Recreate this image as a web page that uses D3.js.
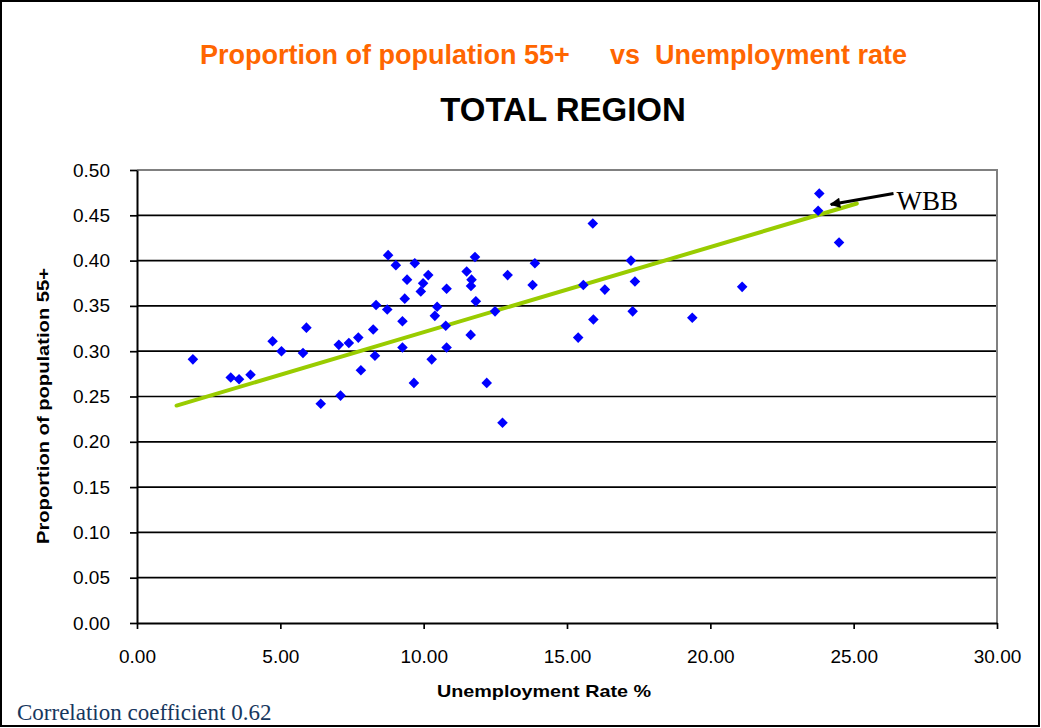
<!DOCTYPE html>
<html>
<head>
<meta charset="utf-8">
<script src="https://cdn.jsdelivr.net/npm/d3@7"></script>
<style>
  body { margin: 0; background: #fff; }
  svg { display: block; }
</style>
</head>
<body>
<div id="chart"></div>
<script>
// Unemployment rate % (x) and proportion of population 55+ (y), one entry per area
const unemployment = [
    1.95, 3.27, 3.56, 3.96, 4.73, 5.04, 5.91, 5.79, 6.41, 7.10,
    7.04, 7.39, 7.72, 7.81, 8.34, 8.24, 8.30, 8.76, 9.03, 8.73,
    9.69, 9.42, 9.34, 9.26, 9.26, 9.66, 10.16, 9.98, 9.90, 10.28,
    10.47, 10.39, 10.80, 10.77, 10.80, 11.50, 11.67, 11.65, 11.64, 11.79,
    11.82, 12.20, 12.49, 12.75, 12.93, 13.88, 13.80, 15.39, 15.57, 15.90,
    15.92, 16.32, 17.23, 17.37, 17.29, 19.37, 21.11, 23.80, 23.76, 24.49
];
const proportion55 = [
    0.291, 0.271, 0.269, 0.274, 0.311, 0.300, 0.326, 0.298, 0.242, 0.251,
    0.307, 0.309, 0.315, 0.279, 0.351, 0.324, 0.295, 0.406, 0.395, 0.346,
    0.397, 0.379, 0.358, 0.333, 0.304, 0.265, 0.384, 0.375, 0.366, 0.291,
    0.349, 0.339, 0.369, 0.328, 0.304, 0.388, 0.379, 0.372, 0.318, 0.404,
    0.355, 0.265, 0.344, 0.221, 0.384, 0.397, 0.373, 0.315, 0.373, 0.441,
    0.335, 0.368, 0.400, 0.377, 0.344, 0.337, 0.371, 0.474, 0.455, 0.420
];

// linear trend line end points (x, y)
const trendX = [1.38, 25.11];
const trendY = [0.240, 0.463];

// WBB callout: arrow tail -> tip (data units)
const calloutX = [26.39, 24.20];
const calloutY = [0.474, 0.462];
const calloutLabel = "WBB";

const xTicks = [0, 5, 10, 15, 20, 25, 30];
const yTicks = [0, 0.05, 0.10, 0.15, 0.20, 0.25, 0.30, 0.35, 0.40, 0.45, 0.50];

const width = 1041;
const height = 728;
const margin = { top: 170, right: 44, bottom: 105, left: 137 };

const svg = d3.select("#chart")
    .append("svg")
    .attr("width", width)
    .attr("height", height);

// outer frame
svg.append("rect")
    .attr("x", 1).attr("y", 1)
    .attr("width", width - 3).attr("height", height - 3)
    .attr("fill", "#fff")
    .attr("stroke", "#000")
    .attr("stroke-width", 2);

const x = d3.scaleLinear().domain([0, 30]).range([margin.left, width - margin.right]);
const y = d3.scaleLinear().domain([0, 0.5]).range([height - margin.bottom, margin.top]);

// gridlines
svg.append("g")
    .selectAll("line")
    .data(yTicks.filter(d => d > 0 && d < 0.5))
    .enter()
    .append("line")
    .attr("x1", x(0)).attr("x2", x(30))
    .attr("y1", d => y(d)).attr("y2", d => y(d))
    .attr("stroke", "#000")
    .attr("stroke-width", 1.7);

// plot frame top / right (grey)
svg.append("path")
    .attr("d", `M${x(0)},${y(0.5)}H${x(30)}V${y(0)}`)
    .attr("fill", "none")
    .attr("stroke", "#808080")
    .attr("stroke-width", 2);

// axes
const yAxis = svg.append("g")
    .attr("transform", `translate(${x(0)},0)`)
    .call(d3.axisLeft(y).tickValues(yTicks).tickFormat(d3.format(".2f")).tickSize(7).tickPadding(20).tickSizeOuter(0));

const xAxis = svg.append("g")
    .attr("transform", `translate(0,${y(0)})`)
    .call(d3.axisBottom(x).tickValues(xTicks).tickFormat(d3.format(".2f")).tickSize(6).tickPadding(21).tickSizeOuter(0));

[xAxis, yAxis].forEach(g => {
    g.select(".domain").attr("stroke", "#000").attr("stroke-width", 2);
    g.selectAll(".tick line").attr("stroke", "#000").attr("stroke-width", 1.7);
    g.selectAll(".tick text")
        .attr("fill", "#000")
        .style("font-family", "'Liberation Sans', Arial, sans-serif")
        .style("font-size", "19px");
});

// trend line
svg.append("line")
    .attr("x1", x(trendX[0])).attr("y1", y(trendY[0]))
    .attr("x2", x(trendX[1])).attr("y2", y(trendY[1]))
    .attr("stroke", "#99cc00")
    .attr("stroke-width", 4)
    .attr("stroke-linecap", "round");

// points (diamonds)
const diamond = d3.symbol().type(d3.symbolSquare).size(56);
svg.append("g")
    .selectAll("path")
    .data(unemployment.map((u, i) => [u, proportion55[i]]))
    .enter()
    .append("path")
    .attr("d", diamond)
    .attr("transform", d => `translate(${x(d[0])},${y(d[1])}) rotate(45)`)
    .attr("fill", "#0000ff");

// callout arrow
svg.append("defs").append("marker")
    .attr("id", "arrow")
    .attr("viewBox", "0 0 10 10")
    .attr("refX", 9).attr("refY", 5)
    .attr("markerWidth", 4).attr("markerHeight", 3.5)
    .attr("markerUnits", "strokeWidth")
    .attr("orient", "auto")
    .append("path")
    .attr("d", "M0,0L10,5L0,10z")
    .attr("fill", "#000");

svg.append("line")
    .attr("x1", x(calloutX[0])).attr("y1", y(calloutY[0]))
    .attr("x2", x(calloutX[1])).attr("y2", y(calloutY[1]))
    .attr("stroke", "#000")
    .attr("stroke-width", 3)
    .attr("marker-end", "url(#arrow)");

svg.append("text")
    .attr("x", x(calloutX[0]) + 3)
    .attr("y", y(calloutY[0]) + 16)
    .style("font-family", "'Liberation Serif', 'Times New Roman', serif")
    .style("font-size", "27px")
    .text(calloutLabel);

// titles
const title = svg.append("text")
    .attr("y", 64)
    .attr("fill", "#ff6600")
    .style("font-family", "'Liberation Sans', Arial, sans-serif")
    .style("font-weight", "bold")
    .style("font-size", "27px")
    .style("white-space", "pre");
title.append("tspan").attr("x", 200).text("Proportion of population 55+");
title.append("tspan").attr("x", 610).text("vs  Unemployment rate");

svg.append("text")
    .attr("x", 563).attr("y", 121)
    .attr("text-anchor", "middle")
    .style("font-family", "'Liberation Sans', Arial, sans-serif")
    .style("font-weight", "bold")
    .style("font-size", "33px")
    .text("TOTAL REGION");

// axis titles
svg.append("text")
    .attr("x", 544).attr("y", 697)
    .attr("text-anchor", "middle")
    .attr("textLength", 214)
    .attr("lengthAdjust", "spacingAndGlyphs")
    .style("font-family", "'Liberation Sans', Arial, sans-serif")
    .style("font-weight", "bold")
    .style("font-size", "17px")
    .text("Unemployment Rate %");

svg.append("text")
    .attr("transform", "translate(49,406) rotate(-90)")
    .attr("text-anchor", "middle")
    .attr("textLength", 276)
    .attr("lengthAdjust", "spacingAndGlyphs")
    .style("font-family", "'Liberation Sans', Arial, sans-serif")
    .style("font-weight", "bold")
    .style("font-size", "17px")
    .text("Proportion of population 55+");

svg.append("text")
    .attr("x", 17).attr("y", 720)
    .attr("fill", "#17375e")
    .style("font-family", "'Liberation Serif', 'Times New Roman', serif")
    .style("font-size", "23px")
    .text("Correlation coefficient 0.62");
</script>
</body>
</html>
